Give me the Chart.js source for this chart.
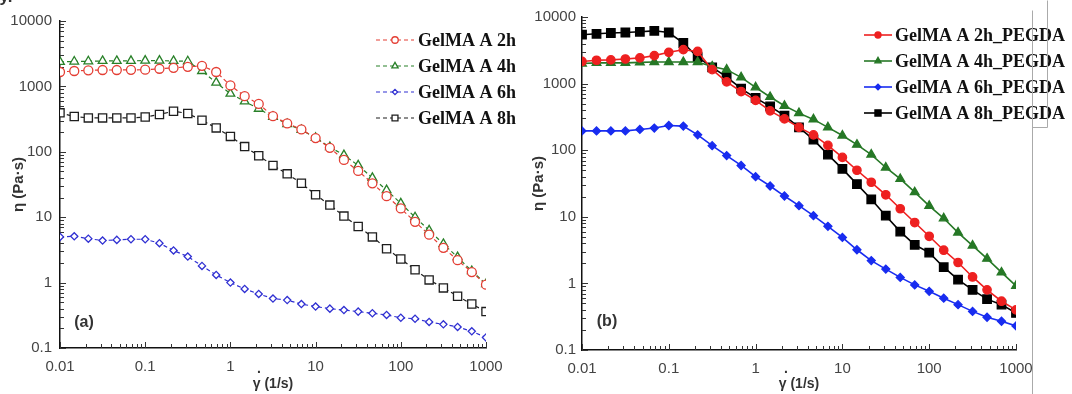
<!DOCTYPE html>
<html>
<head>
<meta charset="utf-8">
<script src="https://cdn.jsdelivr.net/npm/chart.js@4.4.0/dist/chart.umd.min.js"></script>
<style>
  body { margin: 0; background: #fff; width: 1072px; height: 394px; overflow: hidden; position: relative; font-family: "Liberation Sans", Arial, sans-serif; }
  canvas { position: absolute; top: 0; }
  #chartA { left: 0; }
  #chartB { left: 530px; }
  .tag { position: absolute; font-weight: bold; color: #333; font-size: 16px; transform: translate(-50%, -50%); white-space: nowrap; }
  .dot { position: absolute; font-weight: bold; color: #333; font-size: 14px; transform: translate(-50%, -50%); }
</style>
</head>
<body>
<canvas id="chartA" width="530" height="394"></canvas>
<canvas id="chartB" width="542" height="394"></canvas>
<div class="tag" style="left:6px; top:-3px; font-size:17px;">y.</div>
<div class="tag" style="left:84px; top:322px;">(a)</div>
<div class="tag" style="left:607px; top:321px;">(b)</div>
<div class="dot" style="left:259px; top:368px;">.</div>
<div class="dot" style="left:786px; top:368px;">.</div>
<script>
// shear rate (1/s), 6 points per decade
const shearRate = [0.01, 0.0147, 0.0215, 0.0316, 0.0464, 0.0681, 0.1, 0.147, 0.215, 0.316, 0.464, 0.681,
  1, 1.47, 2.15, 3.16, 4.64, 6.81, 10, 14.7, 21.5, 31.6, 46.4, 68.1, 100, 147, 215, 316, 464, 681, 1000];

const xTickLabels = ['0.01', '0.1', '1', '10', '100', '1000'];
const yTickLabels = ['0.1', '1', '10', '100', '1000', '10000'];

const namesA = ['GelMA A 2h', 'GelMA A 4h', 'GelMA A 6h', 'GelMA A 8h'];
const namesB = ['GelMA A 2h_PEGDA', 'GelMA A 4h_PEGDA', 'GelMA A 6h_PEGDA', 'GelMA A 8h_PEGDA'];

// panel (a) viscosity (Pa·s)
const gelma2h = [1660, 1720, 1760, 1780, 1780, 1790, 1800, 1860, 1920, 1990, 2060, 1660, 1035, 710, 540, 350,
  272, 220, 162, 115, 75, 51, 33, 21, 13.6, 8.5, 5.4, 3.4, 2.2, 1.45, 0.93];
const gelma4h = [2370, 2400, 2420, 2450, 2450, 2460, 2480, 2480, 2450, 2420, 1720, 1140, 775, 590, 455, 342,
  266, 216, 163, 118, 89, 62, 40, 26, 16.3, 10, 6.3, 3.9, 2.45, 1.5, 0.95];
const gelma6h = [5.0, 5.1, 4.7, 4.4, 4.5, 4.6, 4.6, 4.0, 3.1, 2.5, 1.8, 1.31, 1.0, 0.80, 0.67, 0.57,
  0.54, 0.47, 0.43, 0.40, 0.38, 0.36, 0.34, 0.32, 0.29, 0.28, 0.25, 0.23, 0.21, 0.18, 0.145];
const gelma8h = [394, 347, 330, 330, 330, 330, 340, 372, 418, 385, 303, 232, 172, 120, 87, 62,
  46, 33, 22, 15.3, 10.4, 7.2, 5.0, 3.3, 2.3, 1.57, 1.1, 0.83, 0.62, 0.47, 0.36];

// panel (b) viscosity (Pa·s)
const pegda2h = [2150, 2240, 2270, 2340, 2430, 2630, 2950, 3230, 3040, 1620, 1060, 760, 560, 390, 295, 220,
  170, 118, 78, 50, 33, 21.4, 13.2, 8.2, 5.1, 3.15, 2.06, 1.25, 0.80, 0.54, 0.40];
const pegda4h = [2000, 2050, 2050, 2050, 2080, 2110, 2110, 2110, 2110, 1810, 1620, 1240, 880, 630, 465, 360,
  290, 220, 166, 121, 86, 55, 37, 23.4, 14.6, 9.5, 5.8, 3.7, 2.35, 1.46, 0.92];
const pegda6h = [195, 195, 195, 195, 205, 215, 235, 230, 170, 117, 83, 59, 40, 29, 20.5, 14.7,
  10.4, 7.2, 4.9, 3.2, 2.2, 1.64, 1.23, 0.95, 0.76, 0.60, 0.48, 0.38, 0.31, 0.27, 0.23];
const pegda8h = [5420, 5600, 5750, 5850, 6000, 6200, 5850, 4070, 2500, 1750, 1260, 840, 610, 455, 330, 220,
  144, 86, 52.5, 31, 18.3, 10.4, 6.0, 3.8, 2.9, 1.75, 1.14, 0.80, 0.58, 0.48, 0.36];

const SANS = '"Liberation Sans", Arial, sans-serif';
const SERIF = '"Liberation Serif", "Times New Roman", serif';

function pts(vals) {
  return vals.map((v, i) => ({ x: shearRate[i], y: v }));
}

// decades from the labels, plus 2..9 minors in between
function logTicks(labels) {
  const out = [];
  labels.forEach((l, i) => {
    const d = parseFloat(l);
    out.push({ value: d });
    if (i < labels.length - 1) {
      for (let m = 2; m < 10; m++) out.push({ value: d * m });
    }
  });
  return out;
}

function labelFor(labels) {
  return function(v) {
    const s = labels.find(l => parseFloat(l) === v);
    return s || '';
  };
}

function series(label, vals, color, style, radius, filled, dashed) {
  return {
    label: label,
    data: pts(vals),
    showLine: true,
    borderColor: color,
    backgroundColor: color,
    borderWidth: dashed ? 1.2 : 1.6,
    borderDash: dashed ? [4, 3] : [],
    pointStyle: style,
    pointRadius: radius,
    pointBorderColor: color,
    pointBackgroundColor: filled ? color : '#fff',
    pointBorderWidth: 1.3,
    legendRadius: radius * 0.72
  };
}

// small ticks drawn inward from the axes
const innerTicks = {
  id: 'innerTicks',
  beforeDatasetsDraw(chart) {
    const ctx = chart.ctx;
    const { left, bottom } = chart.chartArea;
    const xs = chart.scales.x, ys = chart.scales.y;
    ctx.save();
    ctx.strokeStyle = '#333';
    ctx.lineWidth = 1;
    ctx.beginPath();
    xs.ticks.forEach(t => {
      const p = Math.round(xs.getPixelForValue(t.value)) + 0.5;
      const len = t.label ? 6 : 4;
      ctx.moveTo(p, bottom);
      ctx.lineTo(p, bottom - len);
    });
    ys.ticks.forEach(t => {
      const p = Math.round(ys.getPixelForValue(t.value)) + 0.5;
      const len = t.label ? 6 : 4;
      ctx.moveTo(left, p);
      ctx.lineTo(left + len, p);
    });
    ctx.stroke();
    ctx.restore();
  }
};

const sideLegend = {
  id: 'sideLegend',
  afterDraw(chart, args, opts) {
    const ctx = chart.ctx;
    ctx.save();
    chart.data.datasets.forEach((ds, i) => {
      const y = opts.top + i * opts.rowH;
      ctx.strokeStyle = ds.borderColor;
      ctx.lineWidth = ds.borderWidth;
      ctx.setLineDash(ds.borderDash);
      ctx.beginPath();
      ctx.moveTo(opts.x0, y);
      ctx.lineTo(opts.x1, y);
      ctx.stroke();
      ctx.setLineDash([]);
      ctx.fillStyle = ds.pointBackgroundColor;
      ctx.strokeStyle = ds.pointBorderColor;
      ctx.lineWidth = ds.pointBorderWidth;
      Chart.helpers.drawPoint(ctx, {
        pointStyle: ds.pointStyle, radius: ds.legendRadius, rotation: 0, borderWidth: ds.pointBorderWidth
      }, (opts.x0 + opts.x1) / 2, y);
      ctx.fillStyle = '#111';
      ctx.font = opts.font;
      ctx.textBaseline = 'middle';
      ctx.fillText(ds.label, opts.textX, y + 1);
    });
    ctx.restore();
  }
};

// faint frame lines left over from the figure crop
const frameLines = {
  id: 'frameLines',
  afterDraw(chart, args, opts) {
    if (!opts.segments) return;
    const ctx = chart.ctx;
    ctx.save();
    ctx.strokeStyle = '#aaa';
    ctx.lineWidth = 1;
    ctx.beginPath();
    opts.segments.forEach(s => {
      ctx.moveTo(s[0] + 0.5, s[1] + 0.5);
      ctx.lineTo(s[2] + 0.5, s[3] + 0.5);
    });
    ctx.stroke();
    ctx.restore();
  }
};

function makeOptions(cfg) {
  return {
    responsive: false,
    animation: false,
    devicePixelRatio: 1,
    layout: { padding: { left: 0, top: cfg.top, right: cfg.right, bottom: 0 } },
    plugins: {
      legend: { display: false },
      tooltip: { enabled: false },
      sideLegend: cfg.legend,
      frameLines: { segments: cfg.frame || null }
    },
    scales: {
      x: {
        type: 'logarithmic',
        min: 0.01,
        max: 1000,
        afterBuildTicks: s => { s.ticks = logTicks(xTickLabels); },
        afterFit: s => { s.height = cfg.xh; },
        grid: { display: true, drawOnChartArea: false, drawTicks: false },
        border: { display: true, color: '#111', width: 1.5 },
        ticks: {
          autoSkip: false, maxRotation: 0, padding: 10, color: '#444',
          font: { family: SANS, size: 15 },
          callback: labelFor(xTickLabels)
        },
        title: {
          display: true, text: 'γ (1/s)', color: '#333',
          font: { family: SANS, size: 14, weight: 'bold' },
          padding: { top: 0, bottom: 1 }
        }
      },
      y: {
        type: 'logarithmic',
        min: 0.1,
        max: 10000,
        afterBuildTicks: s => { s.ticks = logTicks(yTickLabels); },
        afterFit: s => { s.width = cfg.yw; },
        grid: { display: true, drawOnChartArea: false, drawTicks: false },
        border: { display: true, color: '#111', width: 1.5 },
        ticks: {
          autoSkip: false, padding: cfg.yPad, color: '#444',
          font: { family: SANS, size: 15 },
          callback: labelFor(yTickLabels)
        },
        title: {
          display: true, text: 'η (Pa·s)', color: '#333',
          font: { family: SANS, size: 15, weight: 'bold' },
          padding: { top: cfg.ytPad, bottom: 0 }
        }
      }
    }
  };
}

new Chart(document.getElementById('chartA'), {
  type: 'scatter',
  data: {
    datasets: [
      series(namesA[0], gelma2h, 'rgb(228,62,52)', 'circle', 4.5, false, true),
      series(namesA[1], gelma4h, 'rgb(40,128,40)', 'triangle', 5, false, true),
      series(namesA[2], gelma6h, 'rgb(48,48,210)', 'rectRot', 3.6, false, true),
      series(namesA[3], gelma8h, 'rgb(30,30,30)', 'rect', 5.8, false, true)
    ]
  },
  options: makeOptions({
    top: 21, right: 44, xh: 46, yw: 60, yPad: 8, ytPad: 10,
    legend: { x0: 376, x1: 414, textX: 418, top: 40, rowH: 26, font: 'bold 18px ' + SERIF }
  }),
  plugins: [innerTicks, sideLegend, frameLines]
});

new Chart(document.getElementById('chartB'), {
  type: 'scatter',
  data: {
    datasets: [
      series(namesB[0], pegda2h, 'rgb(238,32,32)', 'circle', 4.2, true, false),
      series(namesB[1], pegda4h, 'rgb(38,120,38)', 'triangle', 5, true, false),
      series(namesB[2], pegda6h, 'rgb(24,44,240)', 'rectRot', 4, true, false),
      series(namesB[3], pegda8h, 'rgb(0,0,0)', 'rect', 6, true, false)
    ]
  },
  options: makeOptions({
    top: 17, right: 56, xh: 44, yw: 52, yPad: 6, ytPad: 0,
    legend: { x0: 334, x1: 362, textX: 365, top: 35, rowH: 26, font: 'bold 18px ' + SERIF },
    frame: [[502, 10, 502, 394], [517, 0, 517, 127], [502, 127, 517, 127]]
  }),
  plugins: [innerTicks, sideLegend, frameLines]
});
</script>
</body>
</html>
